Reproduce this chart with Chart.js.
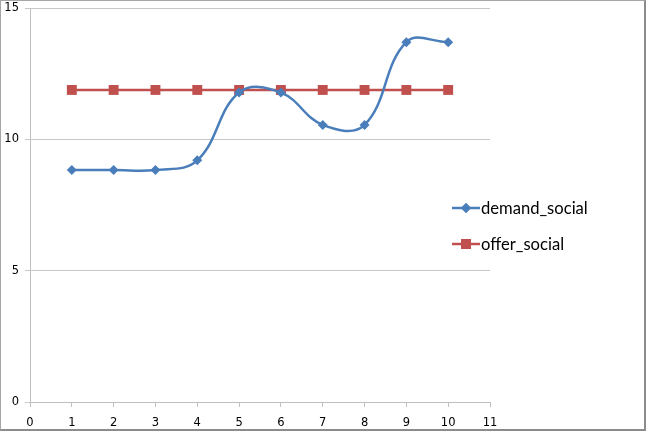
<!DOCTYPE html>
<html><head><meta charset="utf-8">
<script src="https://cdn.jsdelivr.net/npm/chart.js@4/dist/chart.umd.min.js"></script>
<style>
html,body{margin:0;padding:0;background:#fff;}
#wrap{position:relative;width:646px;height:431px;box-sizing:border-box;border:1px solid #a6a6a6;border-right:2px solid #8c8c8c;border-bottom:2px solid #8c8c8c;}
canvas{display:block;}
</style></head>
<body><div id="wrap"><canvas id="c" width="643" height="428"></canvas></div>
<script>
const xValues = [1,2,3,4,5,6,7,8,9,10];
const demandSocial = [8.83,8.83,8.83,9.2,11.78,11.78,10.55,10.55,13.7,13.7];
const offerSocial = [11.88,11.88,11.88,11.88,11.88,11.88,11.88,11.88,11.88,11.88];
const seriesNames = ['demand_social','offer_social'];
const xTicks = [0,11,1];
const yTicks = [0,15,5];

const blue = '#4A7EBB', red = '#C0504D';
const legendPlugin = {
  id:'customLegend',
  afterDraw(chart){
    const ctx = chart.ctx;
    const items = [
      {name:seriesNames[0], color:blue, style:'rectRot', r:5, y:207},
      {name:seriesNames[1], color:red, style:'rect', r:7, y:243}
    ];
    ctx.save();
    items.forEach(it=>{
      ctx.strokeStyle = it.color; ctx.lineWidth = 2.5;
      ctx.beginPath(); ctx.moveTo(451,it.y); ctx.lineTo(479,it.y); ctx.stroke();
      ctx.fillStyle = it.color;
      Chart.helpers.drawPoint(ctx,{pointStyle:it.style,radius:it.r,borderWidth:0,rotation:0},465,it.y);
      ctx.fill();
      ctx.fillStyle = '#000';
      ctx.font = '16.6px Lato';
      ctx.textBaseline = 'middle';
      ctx.fillText(it.name,480,it.y+1);
    });
    ctx.restore();
  }
};

new Chart(document.getElementById('c'),{
  type:'scatter',
  data:{datasets:[
    {label:seriesNames[0],data:xValues.map((x,i)=>({x,y:demandSocial[i]})),showLine:true,
     borderColor:blue,backgroundColor:blue,borderWidth:2.5,tension:0.4,cubicInterpolationMode:'default',
     pointStyle:'rectRot',pointRadius:5,pointBorderWidth:0},
    {label:seriesNames[1],data:xValues.map((x,i)=>({x,y:offerSocial[i]})),showLine:true,
     borderColor:red,backgroundColor:red,borderWidth:2.5,tension:0,
     pointStyle:'rect',pointRadius:7,pointBorderWidth:0}
  ]},
  options:{
    responsive:false,animation:false,
    layout:{padding:{top:7,right:154,left:0,bottom:0}},
    plugins:{legend:{display:false},tooltip:{enabled:false}},
    scales:{
      x:{type:'linear',min:xTicks[0],max:xTicks[1],
        ticks:{stepSize:xTicks[2],color:'#000',font:{family:'DejaVu Sans',size:11.5},padding:9,maxRotation:0},
        grid:{drawOnChartArea:false,drawTicks:true,tickLength:5,color:'#bfbfbf'},
        border:{display:true,color:'#bfbfbf'},
        afterFit(s){s.height=27;s.paddingLeft=0;s.paddingRight=0;}},
      y:{type:'linear',min:yTicks[0],max:yTicks[1],
        ticks:{stepSize:yTicks[2],color:'#000',font:{family:'DejaVu Sans',size:11.5},padding:6},
        grid:{color:'#c8c8c8',tickLength:5},
        border:{display:true,color:'#bfbfbf'},
        afterFit(s){s.width=29;s.paddingTop=0;s.paddingBottom=0;}}
    }
  },
  plugins:[legendPlugin]
});
</script></body></html>
